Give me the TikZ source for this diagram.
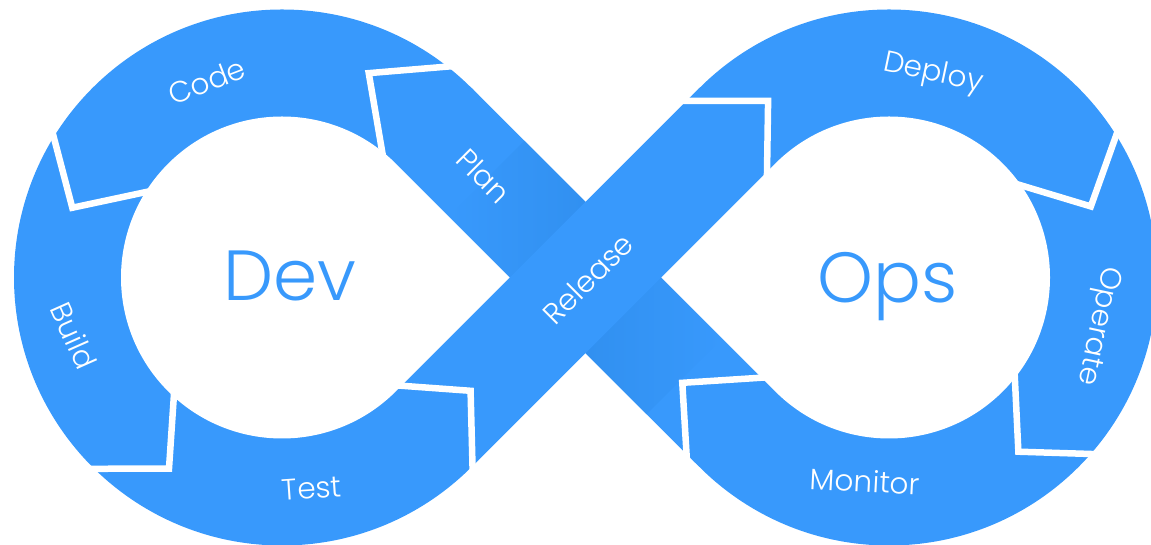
\documentclass[tikz,border=0pt]{standalone}
\usepackage{fontspec}
\setmainfont{Poppins Light}
\usetikzlibrary{calc}
\definecolor{loopblue}{HTML}{3899FC}
\definecolor{loopshade}{HTML}{3190F0}
\tikzset{
  gapline/.style={draw=white,line width=6.5pt,line join=miter},
  stage/.style={text=white,font=\fontsize{29.5}{29.5}\selectfont},
  side/.style={text=loopblue,font=\fontsize{71}{71}\selectfont}
}

\begin{document}
\begin{tikzpicture}[x=1pt,y=1pt]
\useasboundingbox (0,0) rectangle (1151,545);
\coordinate (L) at (282,267.5);
\coordinate (R) at (889,267.5);
\coordinate (X) at (585.5,267.5);
\fill[loopblue] (L) circle[radius=268];
\fill[loopblue] (R) circle[radius=268];
\fill[loopblue] ($(L)+(45:268)$) -- ($(R)+(225:161)$) -- ($(R)+(225:268)$) -- ($(L)+(45:161)$) -- cycle;
\begin{scope}[shift={(X)},rotate=-45]
\shade[left color=loopshade,right color=loopblue] (53.5,-53.5) rectangle (140,53.5);
\shade[left color=loopblue,right color=loopshade] (-140,-53.5) rectangle (-53.5,53.5);
\end{scope}
\fill[loopblue] ($(L)+(-45:268)$) -- ($(R)+(135:161)$) -- ($(R)+(135:268)$) -- ($(L)+(-45:161)$) -- cycle;
\fill[white] ($(L)+(45:161)$) arc[start angle=45,end angle=315,radius=161] -- ($(L)+(227.7,0)$) -- cycle;
\fill[white] ($(R)+(135:161)$) arc[start angle=135,end angle=-135,radius=161] -- ($(R)+(-227.7,0)$) -- cycle;
\draw[gapline] ($(L)+(51:272)$) -- ($(L)+(67:222)$) -- ($(L)+(49:155)$);
\draw[gapline] ($(L)+(147.6:272)$) -- ($(L)+(161.6:221)$) -- ($(L)+(145.8:155)$);
\draw[gapline] ($(L)+(224.7:272)$) -- ($(L)+(239.4:222)$) -- ($(L)+(226:155)$);
\draw[gapline] ($(L)+(314.5:272)$) -- ($(L)+(329:220)$) -- ($(L)+(316:155)$);
\draw[gapline] ($(R)+(139.5:272)$) -- ($(R)+(124.4:214)$) -- ($(R)+(142:155)$);
\draw[gapline] ($(R)+(32.7:272)$) -- ($(R)+(19.4:214)$) -- ($(R)+(37.8:155)$);
\draw[gapline] ($(R)+(-40.5:272)$) -- ($(R)+(-53.4:217)$) -- ($(R)+(-36:155)$);
\draw[gapline] ($(R)+(222:272)$) -- ($(R)+(207:232)$) -- ($(R)+(220:155)$);
\node[stage,rotate=21] (code) at ($(L)+(111:210)$) {Code};
\node[stage,rotate=-66] (build) at ($(L)+(195.6:216)$) {Build};
\node[stage,rotate=4] (test) at ($(L)+(-82:213)$) {Test};
\node[stage,rotate=-45] (plan) at ($(X)+(135:144)$) {Plan};
\node[stage,rotate=45] (release) at ($(X)+(2.5,-1.5)$) {Release};
\node[stage,rotate=-12] (deploy) at ($(R)+(77.8:208)$) {Deploy};
\node[stage,rotate=-102] (operate) at ($(R)+(-13:214)$) {Operate};
\node[stage,rotate=-3] (monitor) at ($(R)+(-96.7:205)$) {Monitor};
\node[side,anchor=base] (dev) at (290,244) {Dev};
\node[side,anchor=base] (ops) at (888,242) {Ops};
\end{tikzpicture}
\end{document}
